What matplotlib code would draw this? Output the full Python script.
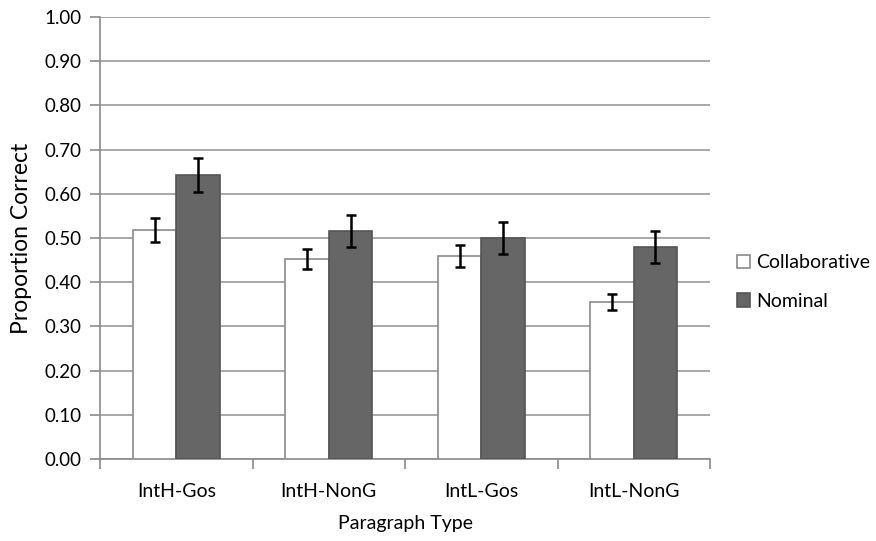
import matplotlib.pyplot as plt
import numpy as np

categories = ['IntH-Gos', 'IntH-NonG', 'IntL-Gos', 'IntL-NonG']
collab = [0.518, 0.452, 0.459, 0.355]
collab_err = [0.028, 0.023, 0.024, 0.018]
nominal = [0.642, 0.516, 0.500, 0.480]
nominal_err = [0.038, 0.037, 0.037, 0.036]
yticks = np.arange(0, 1.01, 0.1)

plt.rcParams['font.family'] = ['Lato', 'DejaVu Sans']

fig = plt.figure(figsize=(8.76, 5.41), dpi=100)
ax = fig.add_axes([0.1142, 0.1516, 0.6963, 0.817])

x = np.arange(len(categories))
w = 0.285
ax.bar(x - w/2, collab, w, color='white', edgecolor='#8a8a8a', linewidth=1.2,
       yerr=collab_err, capsize=3.5, error_kw=dict(ecolor='black', elinewidth=1.8, capthick=1.8),
       label='Collaborative', zorder=3)
ax.bar(x + w/2, nominal, w, color='#666666', edgecolor='#555555', linewidth=1.2,
       yerr=nominal_err, capsize=3.5, error_kw=dict(ecolor='black', elinewidth=1.8, capthick=1.8),
       label='Nominal', zorder=3)

ax.set_xlim(-0.5, len(categories) - 0.5)
ax.set_ylim(0, 1.0)
ax.set_yticks(yticks)
ax.set_yticklabels(['%.2f' % v for v in yticks])
ax.yaxis.grid(True, color='#9a9a9a', linewidth=1.2, zorder=0)
ax.set_axisbelow(True)

ax.set_xticks(np.arange(-0.5, len(categories)), minor=False)
ax.set_xticklabels([])
ax.set_xticks(x, minor=True)
ax.set_xticklabels(categories, minor=True)
ax.tick_params(axis='x', which='minor', length=0, pad=17, labelsize=14)
ax.tick_params(axis='x', which='major', length=7, color='#8a8a8a', width=1.2)
ax.tick_params(axis='y', length=7, color='#8a8a8a', width=1.2, labelsize=13.5, pad=6)

for s in ['top', 'right']:
    ax.spines[s].set_visible(False)
for s in ['left', 'bottom']:
    ax.spines[s].set_color('#8a8a8a')
    ax.spines[s].set_linewidth(1.2)

ax.set_ylabel('Proportion Correct', fontsize=16.5, labelpad=9)
ax.set_xlabel('Paragraph Type', fontsize=14, labelpad=11)

leg = ax.legend(loc='center left', bbox_to_anchor=(1.015, 0.40), frameon=False,
                fontsize=14, handlelength=0.7, handleheight=0.7, handletextpad=0.3,
                labelspacing=1.1)

fig.savefig('out.png', dpi=100)
